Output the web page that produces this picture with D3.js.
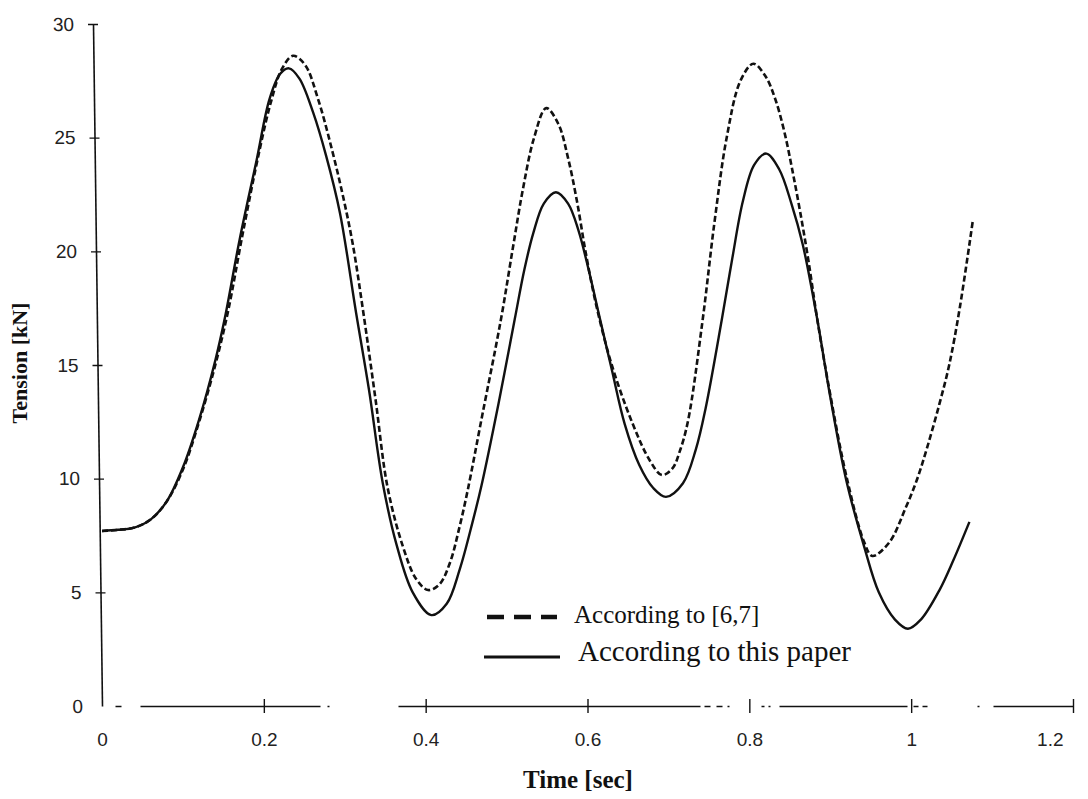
<!DOCTYPE html>
<html>
<head>
<meta charset="utf-8">
<script src="https://cdn.jsdelivr.net/npm/d3@7"></script>
<style>
  html, body { margin: 0; padding: 0; background: #fff; }
  svg { display: block; }
</style>
</head>
<body>
<svg id="chart" width="1088" height="799"></svg>
<script>
// ---- data ----
const xTicks = [0, 0.2, 0.4, 0.6, 0.8, 1, 1.2];
const xTickLabels = ["0", "0.2", "0.4", "0.6", "0.8", "1", "1.2"];
const yTicks = [0, 5, 10, 15, 20, 25, 30];
const yTickLabels = ["0", "5", "10", "15", "20", "25", "30"];
const seriesNames = ["According to [6,7]", "According to this paper"];

// dashed: According to [6,7]
const timeRef = [0, 0.02, 0.04, 0.06, 0.08, 0.10, 0.12, 0.14, 0.156, 0.174, 0.195, 0.209, 0.222, 0.236, 0.251, 0.267, 0.284, 0.298, 0.31, 0.323, 0.338, 0.353, 0.372, 0.388, 0.403, 0.417, 0.43, 0.442, 0.452, 0.47, 0.493, 0.508, 0.52, 0.534, 0.549, 0.564, 0.576, 0.587, 0.598, 0.611, 0.63, 0.656, 0.677, 0.692, 0.705, 0.714, 0.724, 0.742, 0.757, 0.772, 0.789, 0.805, 0.82, 0.832, 0.843, 0.853, 0.863, 0.873, 0.884, 0.90, 0.92, 0.942, 0.952, 0.973, 0.993, 1.007, 1.02, 1.035, 1.047, 1.06, 1.076];
const tensionRef = [7.7, 7.75, 7.85, 8.2, 9.0, 10.4, 12.5, 15.0, 17.4, 20.8, 24.5, 26.6, 28.0, 28.6, 28.2, 26.7, 24.5, 22.4, 20.3, 17.3, 13.5, 9.6, 7.0, 5.6, 5.1, 5.35, 6.3, 7.9, 9.5, 12.8, 17.0, 20.2, 22.7, 25.0, 26.3, 25.6, 24.1, 22.2, 19.9, 17.6, 15.0, 12.4, 10.8, 10.16, 10.45, 11.2, 12.5, 16.9, 21.3, 25.0, 27.5, 28.25, 27.7, 26.7, 25.3, 23.6, 21.7, 19.6, 17.0, 13.7, 10.1, 7.2, 6.6, 7.2, 8.7, 9.94, 11.4, 13.3, 15.0, 17.5, 21.3];

// solid: According to this paper
const timePaper = [0, 0.02, 0.04, 0.06, 0.08, 0.10, 0.12, 0.14, 0.152, 0.17, 0.191, 0.207, 0.22, 0.231, 0.244, 0.261, 0.277, 0.294, 0.314, 0.33, 0.347, 0.364, 0.384, 0.407, 0.426, 0.442, 0.458, 0.469, 0.49, 0.51, 0.522, 0.533, 0.546, 0.561, 0.576, 0.589, 0.602, 0.613, 0.63, 0.646, 0.664, 0.681, 0.697, 0.718, 0.734, 0.746, 0.766, 0.779, 0.792, 0.806, 0.821, 0.837, 0.852, 0.866, 0.884, 0.90, 0.92, 0.942, 0.96, 0.98, 0.996, 1.012, 1.035, 1.052, 1.072];
const tensionPaper = [7.7, 7.75, 7.85, 8.2, 9.0, 10.5, 12.6, 15.2, 17.1, 20.5, 24.0, 26.7, 27.8, 28.05, 27.6, 26.1, 24.2, 21.7, 17.3, 13.9, 9.8, 7.1, 5.0, 4.0, 4.5, 6.0, 8.1, 9.7, 13.3, 17.0, 19.2, 20.8, 22.1, 22.6, 22.1, 20.9, 19.1, 17.4, 14.8, 12.4, 10.6, 9.6, 9.2, 9.8, 11.3, 13.1, 17.0, 19.7, 22.2, 23.8, 24.3, 23.6, 22.1, 20.3, 17.0, 13.6, 9.9, 7.0, 5.0, 3.8, 3.4, 3.8, 5.1, 6.4, 8.1];

// ---- layout ----
const svg = d3.select("#chart");
svg.append("rect").attr("width", 1088).attr("height", 799).attr("fill", "#fff");

const x = d3.scaleLinear().domain([0, 1.2]).range([102, 1073]);
const y = d3.scaleLinear().domain([0, 30]).range([706, 24]);

const ink = "#111";
const tickFont = "'Liberation Sans', Arial, sans-serif";
const serif = "'Liberation Serif', 'Times New Roman', serif";

// X axis (scanned axis line has gaps)
const xAxisGap = "0,13,6,19,180,7,2,69,302,4,6,6,6,5,2,32,3,4,2,9,128,6,5,4,5,50,2,14,90";
const xAxis = d3.axisBottom(x)
  .tickValues(xTicks)
  .tickFormat((d, i) => xTickLabels[i])
  .tickSizeOuter(0)
  .tickSizeInner(7)
  .tickPadding(20);
const gx = svg.append("g").attr("transform", `translate(0,${y(0)})`).call(xAxis);
gx.select(".domain").attr("stroke", ink).attr("stroke-width", 1.4).attr("stroke-dasharray", xAxisGap);
gx.selectAll(".tick line").attr("stroke", ink).attr("stroke-width", 1.4).attr("y1", -7).attr("y2", 7);
gx.selectAll(".tick text")
  .attr("font-family", tickFont).attr("font-size", 19).attr("fill", "#222");
gx.selectAll(".tick").filter(d => d === 0).select("line").remove();
gx.selectAll(".tick").filter(d => d === 1.2).select("text")
  .attr("text-anchor", "end").attr("dx", -10);

// Y axis (slightly tilted in the scan)
const tilt = 9 / 682;
const yAxis = d3.axisLeft(y)
  .tickValues(yTicks)
  .tickFormat((d, i) => yTickLabels[i])
  .tickSizeOuter(0)
  .tickSizeInner(5)
  .tickPadding(14);
const gy = svg.append("g")
  .attr("transform", `translate(${102 - tilt * 706},0) skewX(${Math.atan(tilt) * 180 / Math.PI})`)
  .call(yAxis);
gy.select(".domain").attr("stroke", ink).attr("stroke-width", 1.6);
gy.selectAll(".tick line").attr("stroke", ink).attr("stroke-width", 1.4).attr("x1", -5).attr("x2", 5);
gy.selectAll(".tick").filter(d => d === 0).select("line").remove();
gy.selectAll(".tick text")
  .attr("font-family", tickFont).attr("font-size", 19).attr("fill", "#222");

// Lines
const line = d3.line()
  .x(d => x(d[0]))
  .y(d => y(d[1]))
  .curve(d3.curveCatmullRom.alpha(0.5));

const refData = timeRef.map((t, i) => [t, tensionRef[i]]);
const paperData = timePaper.map((t, i) => [t, tensionPaper[i]]);

svg.append("path").datum(refData)
  .attr("d", line).attr("fill", "none").attr("stroke", ink)
  .attr("stroke-width", 2.6).attr("stroke-dasharray", "6,3");
svg.append("path").datum(paperData)
  .attr("d", line).attr("fill", "none").attr("stroke", ink)
  .attr("stroke-width", 2.4);

// Legend
const lg = svg.append("g");
lg.append("line").attr("x1", 487).attr("x2", 557).attr("y1", 617).attr("y2", 617)
  .attr("stroke", ink).attr("stroke-width", 4.5).attr("stroke-dasharray", "17,10");
lg.append("text").attr("x", 574).attr("y", 623)
  .attr("font-family", serif).attr("font-size", 25).attr("fill", ink)
  .text(seriesNames[0]);
lg.append("line").attr("x1", 484).attr("x2", 560).attr("y1", 657).attr("y2", 657)
  .attr("stroke", ink).attr("stroke-width", 2.8);
lg.append("text").attr("x", 578).attr("y", 661)
  .attr("font-family", serif).attr("font-size", 29).attr("fill", ink)
  .text(seriesNames[1]);

// Axis titles
svg.append("text")
  .attr("transform", "translate(27,363) rotate(-90)")
  .attr("text-anchor", "middle")
  .attr("font-family", serif).attr("font-weight", "bold").attr("font-size", 22).attr("fill", ink)
  .text("Tension [kN]");
svg.append("text")
  .attr("x", 578).attr("y", 788)
  .attr("text-anchor", "middle")
  .attr("font-family", serif).attr("font-weight", "bold").attr("font-size", 25).attr("fill", ink)
  .text("Time [sec]");
</script>
</body>
</html>
